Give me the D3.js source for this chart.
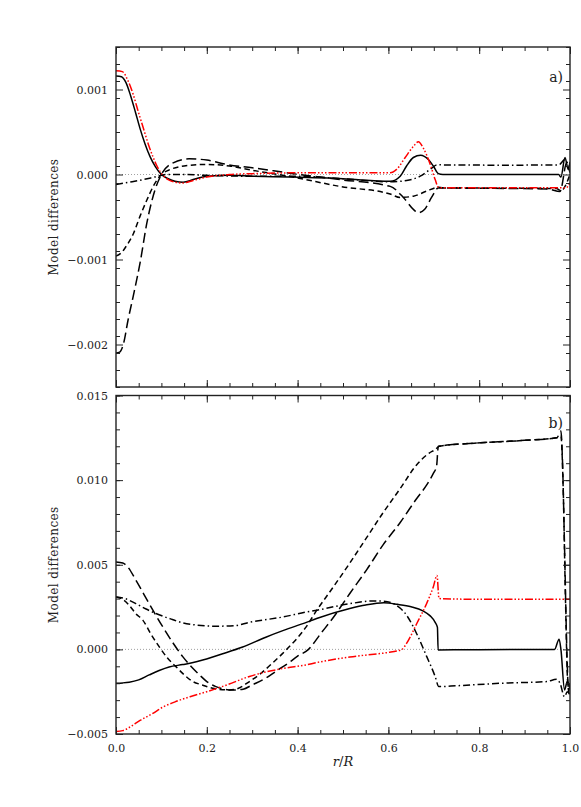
<!DOCTYPE html>
<html>
<head>
<meta charset="utf-8">
<script src="https://cdn.jsdelivr.net/npm/d3@7"></script>
<style>
  body { margin: 0; background: #fff; }
  svg text { font-family: "DejaVu Serif", "Liberation Serif", serif; fill: #222; }
</style>
</head>
<body>
<div id="chart"></div>
<script>
// tick values
var xMajor = [0, 0.2, 0.4, 0.6, 0.8, 1.0];
var xLabels = ["0.0", "0.2", "0.4", "0.6", "0.8", "1.0"];
var aMajor = [-0.002, -0.001, 0.000, 0.001];
var bMajor = [-0.005, 0.000, 0.005, 0.010, 0.015];

// panel a) series  [r/R, difference]
var aSolid = [[0,0.00116],[0.012,0.00115],[0.022,0.00108],[0.032,0.00093],[0.043,0.00073],[0.053,0.00054],[0.064,0.00036],[0.075,0.00021],[0.087,0.00009],[0.1,0.0],[0.115,-0.00005],[0.13,-0.00008],[0.148,-0.00009],[0.17,-0.00006],[0.2,-0.00002],[0.25,-0.00001],[0.3,-0.00002],[0.383,-0.00003],[0.5,-0.00005],[0.604,-0.00008],[0.626,-0.00002],[0.64,0.0001],[0.655,0.0002],[0.671,0.000227],[0.688,0.000176],[0.699,0.0001],[0.71,0.00001],[0.72,0.0],[0.85,0.0],[0.975,0.0],[0.98,-0.00003],[0.989,0.0002],[0.996,0.00006],[1.0,0.00015]];
var aRed = [[0,0.00122],[0.014,0.00121],[0.025,0.00112],[0.038,0.00094],[0.049,0.00074],[0.06,0.00055],[0.071,0.00036],[0.082,0.0002],[0.092,0.00008],[0.102,0.0],[0.115,-0.00006],[0.13,-0.00009],[0.147,-0.0001],[0.17,-0.00007],[0.2,-0.00003],[0.25,0.0],[0.3,0.00001],[0.4,0.00002],[0.604,0.00002],[0.618,0.00006],[0.637,0.0002],[0.655,0.00033],[0.666,0.000385],[0.677,0.00031],[0.692,0.00012],[0.703,-0.00006],[0.71,-0.00015],[0.72,-0.000157],[0.98,-0.000157],[0.99,-0.00016],[1.0,-0.0001]];
var aDashDot = [[0,-0.000118],[0.03,-0.00009],[0.06,-0.00006],[0.085,-0.00003],[0.11,0.0],[0.15,0.0],[0.2,-0.00001],[0.3,-0.00002],[0.4,-0.00002],[0.5,-0.00005],[0.604,-0.000086],[0.64,-0.00007],[0.67,-0.00002],[0.692,0.00006],[0.708,0.000115],[0.72,0.000113],[0.85,0.00011],[0.975,0.000112],[0.989,0.000176],[1.0,0.00002]];
var aShortDash = [[0,-0.00096],[0.012,-0.00092],[0.023,-0.00084],[0.038,-0.0007],[0.053,-0.00049],[0.068,-0.0003],[0.082,-0.00014],[0.1,0.0],[0.12,0.00006],[0.15,0.0001],[0.198,0.000118],[0.25,0.0001],[0.3,0.00005],[0.39,-0.00003],[0.493,-0.00014],[0.604,-0.00023],[0.626,-0.00027],[0.655,-0.000255],[0.684,-0.000196],[0.71,-0.00015],[0.72,-0.000157],[0.97,-0.000165],[0.98,-0.00019],[1.0,0.0]];
var aLongDash = [[0,-0.0021],[0.008,-0.00209],[0.016,-0.002],[0.027,-0.0017],[0.038,-0.00143],[0.053,-0.00104],[0.068,-0.00057],[0.086,-0.00018],[0.1,0.0],[0.126,0.000137],[0.161,0.000184],[0.2,0.00017],[0.244,0.000118],[0.3,0.00008],[0.39,0.00001],[0.493,-0.00006],[0.604,-0.00014],[0.633,-0.00027],[0.655,-0.00041],[0.666,-0.00045],[0.68,-0.00041],[0.695,-0.00027],[0.71,-0.00016],[0.72,-0.00016],[0.95,-0.00017],[0.978,-0.0002],[0.993,0.00014],[1.0,0.0001]];

// panel b) series
var bSolid = [[0,-0.002],[0.015,-0.00198],[0.029,-0.00194],[0.05,-0.0018],[0.073,-0.00151],[0.095,-0.00125],[0.117,-0.00104],[0.147,-0.0009],[0.17,-0.00078],[0.191,-0.00063],[0.213,-0.00045],[0.235,-0.00026],[0.279,0.00014],[0.33,0.00072],[0.369,0.00112],[0.418,0.00158],[0.442,0.00182],[0.515,0.00241],[0.55,0.00262],[0.59,0.00275],[0.62,0.00266],[0.65,0.00252],[0.676,0.00228],[0.692,0.00198],[0.703,0.0016],[0.708,0.0013],[0.7095,-0.00003],[0.8,-0.00002],[0.966,0.0],[0.976,0.0006],[0.98,0.0],[0.988,-0.0024],[0.994,-0.0019],[1.0,-0.0023]];
var bRed = [[0,-0.00485],[0.015,-0.0048],[0.03,-0.0046],[0.053,-0.0042],[0.08,-0.0038],[0.104,-0.0034],[0.13,-0.0031],[0.163,-0.0028],[0.2,-0.0025],[0.244,-0.0021],[0.294,-0.0016],[0.369,-0.00112],[0.418,-0.00092],[0.442,-0.00078],[0.515,-0.00045],[0.6,-0.00018],[0.618,-0.0001],[0.63,0.0],[0.64,0.00035],[0.662,0.0015],[0.684,0.0027],[0.699,0.0037],[0.707,0.00437],[0.7115,0.003],[0.8,0.00296],[1.0,0.00296]];
var bDashDot = [[0,0.0031],[0.02,0.003],[0.044,0.0027],[0.065,0.0024],[0.088,0.00212],[0.12,0.0018],[0.147,0.00157],[0.18,0.00143],[0.22,0.00137],[0.26,0.0014],[0.294,0.0016],[0.369,0.00192],[0.418,0.0022],[0.442,0.00231],[0.515,0.0027],[0.567,0.00286],[0.59,0.00285],[0.611,0.0027],[0.64,0.00202],[0.662,0.00094],[0.684,-0.0004],[0.703,-0.0016],[0.711,-0.0022],[0.75,-0.00215],[0.85,-0.002],[0.949,-0.0019],[0.97,-0.00177],[0.978,-0.002],[0.988,-0.0028],[0.994,-0.0025],[1.0,-0.0027]];
var bShortDash = [[0,0.0031],[0.015,0.00295],[0.029,0.00261],[0.044,0.0021],[0.059,0.00173],[0.077,0.0009],[0.095,0.00016],[0.113,-0.0005],[0.132,-0.00102],[0.15,-0.0015],[0.169,-0.0019],[0.19,-0.0021],[0.213,-0.0023],[0.25,-0.0024],[0.27,-0.0023],[0.294,-0.0019],[0.32,-0.0014],[0.345,-0.0008],[0.376,0.0],[0.418,0.0013],[0.442,0.0023],[0.479,0.0037],[0.515,0.0051],[0.552,0.0066],[0.589,0.0081],[0.626,0.0095],[0.662,0.0109],[0.69,0.0116],[0.703,0.0118],[0.712,0.012],[0.8,0.0122],[0.9,0.01235],[0.97,0.0125],[0.98,0.0126],[0.985,0.0095],[0.99,0.003],[0.995,-0.002],[1.0,-0.0028]];
var bLongDash = [[0,0.00516],[0.015,0.0051],[0.025,0.0049],[0.044,0.00408],[0.073,0.0027],[0.103,0.00133],[0.125,0.0004],[0.147,-0.00043],[0.165,-0.001],[0.184,-0.00151],[0.2,-0.0019],[0.22,-0.0022],[0.257,-0.0024],[0.28,-0.00235],[0.3,-0.0021],[0.33,-0.0017],[0.352,-0.0013],[0.38,-0.0008],[0.4,-0.0004],[0.424,0.0],[0.45,0.0009],[0.479,0.0019],[0.515,0.0033],[0.552,0.0047],[0.589,0.0062],[0.626,0.0075],[0.662,0.0089],[0.684,0.0097],[0.699,0.0104],[0.706,0.0108],[0.71,0.012],[0.77,0.01215],[0.9,0.01235],[0.971,0.0125],[0.98,0.0129],[0.983,0.0115],[0.988,0.006],[0.993,0.0],[0.997,-0.0025],[1.0,-0.002]];

var zeroLine = [[0, 0], [1, 0]];

var svgWidth = 581, svgHeight = 807;
var xLeft = 116, xRight = 570;

var svg = d3.select("#chart").append("svg")
  .attr("width", svgWidth)
  .attr("height", svgHeight);

var x = d3.scaleLinear().domain([0, 1]).range([xLeft, xRight]);

// line styles (IDL linestyles)
var styles = {
  zero:  { color: "#777", width: 0.7, dash: "1,2" },
  solid: { color: "#000", width: 1.5, dash: null },
  red:   { color: "#f00", width: 1.5, dash: "8,2,1.5,2,1.5,2,1.5,2" },
  dash:  { color: "#000", width: 1.5, dash: "5.5,3.5" },
  long:  { color: "#000", width: 1.5, dash: "10,4.5" },
  dot:   { color: "#000", width: 1.5, dash: "7,3,1.5,3" }
};

function drawPanel(id, top, bottom, domain, major, minorStep, series, tag, tagY, showX) {
  var y = d3.scaleLinear().domain(domain).range([bottom, top]);
  var g = svg.append("g").attr("class", "panel-" + id);

  g.append("clipPath").attr("id", "clip-" + id)
    .append("rect").attr("x", xLeft).attr("y", top)
    .attr("width", xRight - xLeft).attr("height", bottom - top);

  var line = d3.line()
    .x(d => x(d[0]))
    .y(d => y(d[1]))
    .curve(d3.curveMonotoneX);

  var lines = g.append("g").attr("clip-path", "url(#clip-" + id + ")");
  series.forEach(function(s) {
    var st = styles[s.style];
    lines.append("path")
      .datum(s.data)
      .attr("d", line)
      .attr("fill", "none")
      .attr("stroke", st.color)
      .attr("stroke-width", st.width)
      .attr("stroke-dasharray", st.dash)
      .attr("stroke-linejoin", "round");
  });

  var minor = d3.range(domain[0], domain[1] + minorStep / 2, minorStep);
  var xMinor = d3.range(0, 1.0001, 0.05);
  var fmt = d3.format(".3f");

  function axisGroup(axis, tx, ty) {
    var a = g.append("g").attr("transform", "translate(" + tx + "," + ty + ")").call(axis);
    a.select(".domain").remove();
    a.selectAll("line").attr("stroke", "#222").attr("stroke-width", 1);
    return a;
  }

  // y ticks, left and right, pointing inward
  var left = axisGroup(d3.axisLeft(y).tickValues(major).tickSize(-7).tickPadding(8).tickFormat(fmt), xLeft, 0);
  left.selectAll("text").style("font-size", "11px").style("font-family", "DejaVu Serif, serif").attr("fill", "#222");
  axisGroup(d3.axisLeft(y).tickValues(minor).tickSize(-4).tickFormat(""), xLeft, 0);
  axisGroup(d3.axisRight(y).tickValues(major).tickSize(-7).tickFormat(""), xRight, 0);
  axisGroup(d3.axisRight(y).tickValues(minor).tickSize(-4).tickFormat(""), xRight, 0);

  // x ticks, top and bottom
  axisGroup(d3.axisTop(x).tickValues(xMajor).tickSize(-7).tickFormat(""), 0, top);
  axisGroup(d3.axisTop(x).tickValues(xMinor).tickSize(-4).tickFormat(""), 0, top);
  var bot = axisGroup(d3.axisBottom(x).tickValues(xMajor).tickSize(-7).tickPadding(10)
    .tickFormat((d, i) => showX ? xLabels[i] : ""), 0, bottom);
  bot.selectAll("text").style("font-size", "11px").style("font-family", "DejaVu Serif, serif").attr("fill", "#222");
  axisGroup(d3.axisBottom(x).tickValues(xMinor).tickSize(-4).tickFormat(""), 0, bottom);

  // frame
  g.append("rect")
    .attr("x", xLeft).attr("y", top)
    .attr("width", xRight - xLeft).attr("height", bottom - top)
    .attr("fill", "none").attr("stroke", "#222").attr("stroke-width", 1.4);

  // y label
  g.append("text")
    .attr("transform", "translate(58," + ((top + bottom) / 2) + ") rotate(-90)")
    .attr("text-anchor", "middle")
    .style("font-size", "12px")
    .style("letter-spacing", "0.4px")
    .text("Model differences");

  // panel tag
  g.append("text")
    .attr("x", 563).attr("y", tagY)
    .attr("text-anchor", "end")
    .style("font-size", "14px")
    .text(tag);
}

drawPanel("a", 47, 387, [-0.0025, 0.0015], aMajor, 0.0002, [
  { style: "zero", data: zeroLine },
  { style: "dot", data: aDashDot },
  { style: "dash", data: aShortDash },
  { style: "long", data: aLongDash },
  { style: "solid", data: aSolid },
  { style: "red", data: aRed }
], "a)", 82, false);

drawPanel("b", 395.5, 734, [-0.005, 0.015], bMajor, 0.001, [
  { style: "zero", data: zeroLine },
  { style: "dot", data: bDashDot },
  { style: "dash", data: bShortDash },
  { style: "long", data: bLongDash },
  { style: "solid", data: bSolid },
  { style: "red", data: bRed }
], "b)", 428, true);

// x axis label
var xl = svg.append("text")
  .attr("x", (xLeft + xRight) / 2).attr("y", 766)
  .attr("text-anchor", "middle")
  .style("font-size", "13px");
xl.append("tspan").style("font-style", "italic").text("r");
xl.append("tspan").text("/");
xl.append("tspan").style("font-style", "italic").text("R");
</script>
</body>
</html>
